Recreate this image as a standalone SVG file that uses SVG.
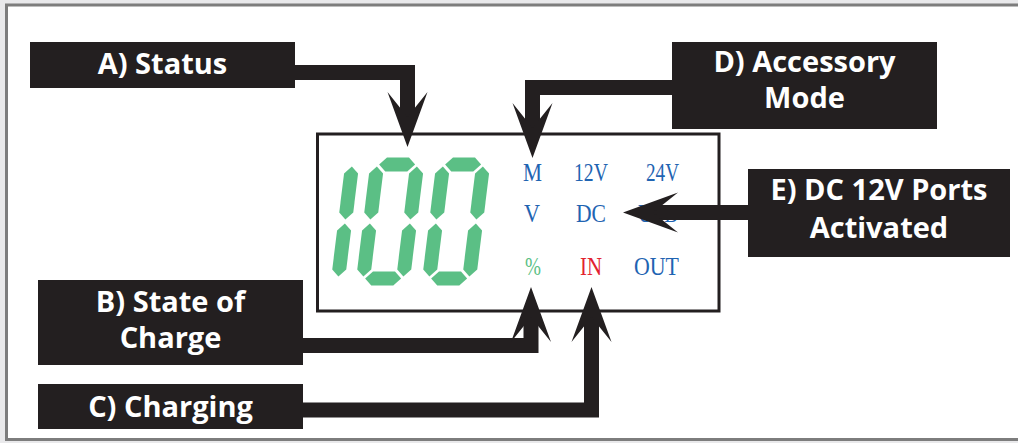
<svg xmlns="http://www.w3.org/2000/svg" width="1018" height="443" viewBox="0 0 1018 443">
<style>
.box{fill:#231f20}
.lbl{fill:#ffffff;font-family:"Open Sans","Liberation Sans",sans-serif;font-weight:700;font-size:29px;text-anchor:middle}
.lcd{font-family:"Liberation Serif",serif;font-size:26px}
.blue{fill:#1f64b2}
.red{fill:#e2222f}
.grn{fill:#5bbf85}
.seg{fill:#5bbf85}
.bar{fill:none;stroke:#231f20;stroke-width:15;stroke-linejoin:miter;stroke-linecap:butt}
.head{fill:#231f20}
</style>
<defs>
<g id="dig0" class="seg">
<polygon points="9,7 16,0 38,0 45,7 38,14 16,14"/>
<polygon points="7,9 14,16 14,55 7,62 0,55 0,16"/>
<polygon points="47,9 54,16 54,55 47,62 40,55 40,16"/>
<polygon points="7,66 14,73 14,112 7,119 0,112 0,73"/>
<polygon points="47,66 54,73 54,112 47,119 40,112 40,73"/>
<polygon points="9,121 16,114 38,114 45,121 38,128 16,128"/>
</g>
<g id="dig1" class="seg">
<polygon points="47,9 54,16 54,55 47,62 40,55 40,16"/>
<polygon points="47,66 54,73 54,112 47,119 40,112 40,73"/>
</g>
</defs>
<rect x="0" y="0" width="1018" height="443" fill="#e9e9eb"/>
<rect x="6.5" y="5" width="1020" height="434.5" fill="#ffffff" stroke="#7d7d7d" stroke-width="3"/>

<g id="lcd">
<rect x="317.5" y="134" width="401.5" height="177" fill="#ffffff" stroke="#231f20" stroke-width="3"/>
<use href="#dig1" transform="translate(306,157.5) skewX(-7)"/>
<use href="#dig0" transform="translate(371,157.5) skewX(-7)"/>
<use href="#dig0" transform="translate(437,157.5) skewX(-7)"/>
<text class="lcd blue" x="523" y="181" textLength="19" lengthAdjust="spacingAndGlyphs">M</text>
<text class="lcd blue" x="574" y="181" textLength="34" lengthAdjust="spacingAndGlyphs">12V</text>
<text class="lcd blue" x="646" y="181" textLength="33" lengthAdjust="spacingAndGlyphs">24V</text>
<text class="lcd blue" x="524" y="221.5" textLength="16" lengthAdjust="spacingAndGlyphs">V</text>
<text class="lcd blue" x="576" y="221.5" textLength="30" lengthAdjust="spacingAndGlyphs">DC</text>
<text class="lcd blue" x="638" y="221.5" textLength="40" lengthAdjust="spacingAndGlyphs">USB</text>
<text class="lcd grn" x="525" y="275" textLength="16" lengthAdjust="spacingAndGlyphs">%</text>
<text class="lcd red" x="580" y="275" textLength="22" lengthAdjust="spacingAndGlyphs">IN</text>
<text class="lcd blue" x="634" y="275" textLength="45" lengthAdjust="spacingAndGlyphs">OUT</text>
</g>

<g id="connectors">
<path class="bar" d="M295,72.5 H407.5 V122"/>
<polygon class="head" points="407.5,147 387.5,92 407.5,117 427.5,92"/>
<path class="bar" d="M672,87.5 H532.5 V133"/>
<polygon class="head" points="532.5,158 512.5,103 532.5,128 552.5,103"/>
<path class="bar" d="M748,212.5 H648"/>
<polygon class="head" points="623,212.5 678,192.5 653,212.5 678,232.5"/>
<path class="bar" d="M303,345.5 H531 V312"/>
<polygon class="head" points="531,287 511,342 531,317 551,342"/>
<path class="bar" d="M303,410 H591.5 V312"/>
<polygon class="head" points="591.5,287 571.5,342 591.5,317 611.5,342"/>
</g>

<g id="labelA">
<rect class="box" x="30" y="42" width="265" height="46"/>
<text class="lbl" x="162.5" y="74">A) Status</text>
</g>
<g id="labelD">
<rect class="box" x="672" y="42" width="265" height="87"/>
<text class="lbl" x="804.5" y="72">D) Accessory</text>
<text class="lbl" x="804.5" y="108">Mode</text>
</g>
<g id="labelE">
<rect class="box" x="748" y="169" width="262" height="88"/>
<text class="lbl" x="879" y="200">E) DC 12V Ports</text>
<text class="lbl" x="879" y="238">Activated</text>
</g>
<g id="labelB">
<rect class="box" x="38" y="280" width="265" height="85"/>
<text class="lbl" x="170.5" y="312">B) State of</text>
<text class="lbl" x="170.5" y="348">Charge</text>
</g>
<g id="labelC">
<rect class="box" x="38" y="384" width="265" height="45"/>
<text class="lbl" x="170.5" y="417">C) Charging</text>
</g>
</svg>
